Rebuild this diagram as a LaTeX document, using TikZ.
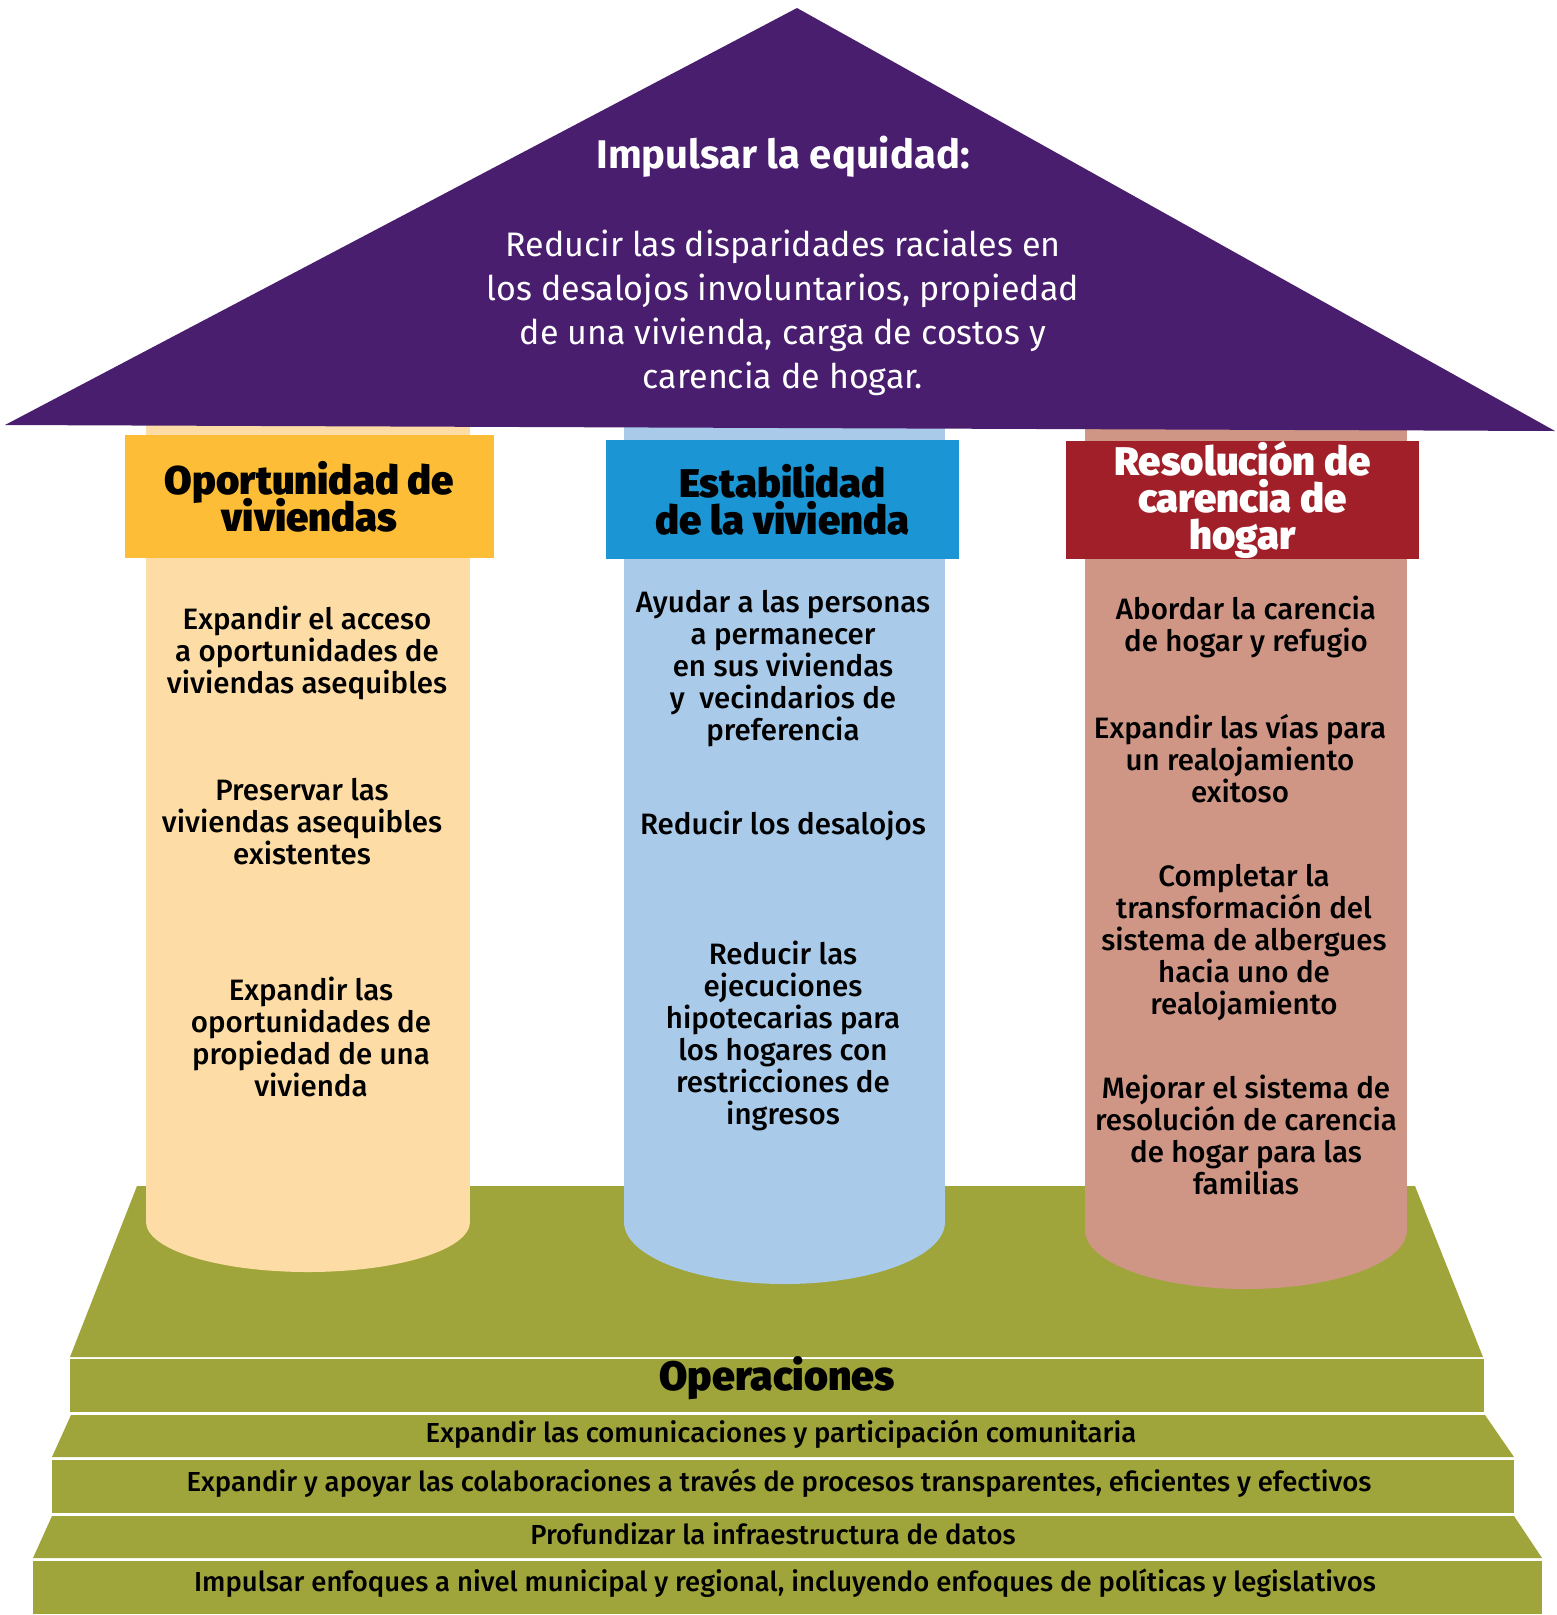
\documentclass[tikz,border=0pt]{standalone}
\usepackage{fontspec}
\setmainfont{Fira Sans}
\newfontfamily\medfont{Fira Sans Medium}
\newfontfamily\heavyfont{Fira Sans Black}
\usepackage{tikz}

\definecolor{roofpurple}{HTML}{4A1E6F}
\definecolor{oppgold}{HTML}{FDBD36}
\definecolor{opplight}{HTML}{FDDDA5}
\definecolor{stabblue}{HTML}{1B95D3}
\definecolor{stablight}{HTML}{A9CBE9}
\definecolor{homered}{HTML}{A01F28}
\definecolor{homelight}{HTML}{CF9686}
\definecolor{basegreen}{HTML}{9FA53A}
\newcommand{\tightlines}{\lineskiplimit=-40pt}

\begin{document}
\begin{tikzpicture}[x=1pt, y=-1pt,
  roofttl/.style={text=white, font=\bfseries\fontsize{40}{44}\selectfont},
  rooftxt/.style={text=white, align=center, font=\fontsize{34}{44}\selectfont\tightlines},
  head/.style={align=center, inner sep=0pt, font=\heavyfont\fontsize{40}{37}\selectfont\tightlines},
  item/.style={align=center, font=\medfont\fontsize{29.5}{32}\selectfont\tightlines},
  optxt/.style={font=\medfont\fontsize{27.5}{30}\selectfont},
  ophead/.style={font=\heavyfont\fontsize{41}{44}\selectfont}
]
  \useasboundingbox (0,0) rectangle (1557,1615);

  % - Base: escalones verdes -
  \fill[basegreen] (137,1186) -- (1415,1186) -- (1483,1357) -- (70,1357) -- cycle;
  \fill[basegreen] (70,1359) rectangle (1484,1412);
  \fill[basegreen] (71,1415) -- (1485,1415) -- (1514,1457) -- (52,1457) -- cycle;
  \fill[basegreen] (52,1460) rectangle (1514,1513);
  \fill[basegreen] (52,1516) -- (1514,1516) -- (1542,1558) -- (33,1558) -- cycle;
  \fill[basegreen] (33,1561) rectangle (1542,1614);

  % - Columnas -
  \fill[opplight] (146,420) rectangle (470,1222);
  \fill[opplight] (308,1222) ellipse [x radius=162, y radius=50];
  \fill[stablight] (624,420) rectangle (945,1222);
  \fill[stablight] (784.5,1222) ellipse [x radius=160.5, y radius=62];
  \fill[homelight] (1085,420) rectangle (1407,1230);
  \fill[homelight] (1246,1230) ellipse [x radius=161, y radius=59];

  % - Techo -
  \fill[roofpurple] (5,425) -- (797,8) -- (1555,431) -- cycle;
  \node[roofttl] (equidad) at (783,157) {Impulsar la equidad:};
  \node[rooftxt] (meta) at (783,313)
    {Reducir las disparidades raciales en\\los desalojos involuntarios, propiedad\\de una vivienda, carga de costos y\\carencia de hogar.};

  % - Encabezados de columna -
  \node[head, fill=oppgold, minimum width=369, minimum height=123] (opp) at (309.5,496.5)
    {Oportunidad de\\viviendas};
  \node[head, fill=stabblue, minimum width=353, minimum height=119] (stab) at (782.5,499.5)
    {Estabilidad\\de la vivienda};
  \node[head, fill=homered, text=white, minimum width=353, minimum height=118] (home) at (1242.5,500)
    {Resolución de\\carencia de\\hogar};

  % - Textos: oportunidad -
  \node[item] (opp1) at (307,653) {Expandir el acceso\\a oportunidades de\\viviendas asequibles};
  \node[item] (opp2) at (302,822) {Preservar las\\viviendas asequibles\\existentes};
  \node[item] (opp3) at (311,1037) {Expandir las\\oportunidades de\\propiedad de una\\vivienda};

  % - Textos: estabilidad -
  \node[item] (stab1) at (783,669) {Ayudar a las personas\\a permanecer\\en sus viviendas\\y~~vecindarios de\\preferencia};
  \node[item] (stab2) at (783,826) {Reducir los desalojos};
  \node[item] (stab3) at (783,1036) {Reducir las\\ejecuciones\\hipotecarias para\\los hogares con\\restricciones de\\ingresos};

  % - Textos: carencia de hogar -
  \node[item] (home1) at (1246,627) {Abordar la carencia\\de hogar y refugio};
  \node[item] (home2) at (1240,759) {Expandir las vías para\\un realojamiento\\exitoso};
  \node[item] (home3) at (1244,943) {Completar la\\transformación del\\sistema de albergues\\hacia uno de\\realojamiento};
  \node[item] (home4) at (1246,1135) {Mejorar el sistema de\\resolución de carencia\\de hogar para las\\familias};

  % - Operaciones -
  \node[ophead] (ops) at (777,1378) {Operaciones};
  \node[optxt] (ops1) at (781,1434) {Expandir las comunicaciones y participación comunitaria};
  \node[optxt] (ops2) at (779,1483) {Expandir y apoyar las colaboraciones a través de procesos transparentes, eficientes y efectivos};
  \node[optxt] (ops3) at (773,1534) {Profundizar la infraestructura de datos};
  \node[optxt] (ops4) at (785,1583) {Impulsar enfoques a nivel municipal y regional, incluyendo enfoques de políticas y legislativos};
\end{tikzpicture}
\end{document}
